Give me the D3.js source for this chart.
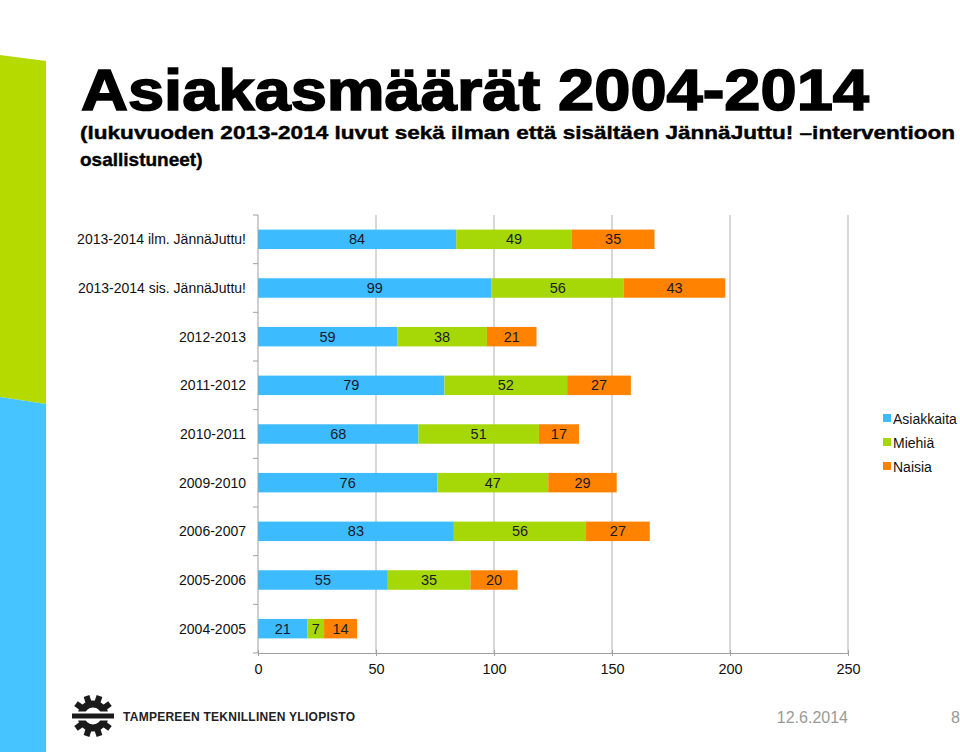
<!DOCTYPE html>
<html>
<head>
<meta charset="utf-8">
<script src="https://cdn.jsdelivr.net/npm/d3@7"></script>
<style>
  body { margin: 0; background: #fff; }
  svg { display: block; font-family: "Liberation Sans", Arial, sans-serif; }
</style>
</head>
<body>
<div id="container"></div>
<script>
  // data
  const categories = [
    "2013-2014 ilm. JännäJuttu!",
    "2013-2014 sis. JännäJuttu!",
    "2012-2013",
    "2011-2012",
    "2010-2011",
    "2009-2010",
    "2006-2007",
    "2005-2006",
    "2004-2005"
  ];
  const seriesNames = ["Asiakkaita", "Miehiä", "Naisia"];
  const asiakkaita = [84, 99, 59, 79, 68, 76, 83, 55, 21];
  const miehia = [49, 56, 38, 52, 51, 47, 56, 35, 7];
  const naisia = [35, 43, 21, 27, 17, 29, 27, 20, 14];
  const xTicks = [0, 50, 100, 150, 200, 250];
  const colors = ["#3dbbff", "#a5d806", "#ff8200"];

  const W = 960, H = 752;
  const svg = d3.select("#container").append("svg")
    .attr("width", W).attr("height", H);

  // left stripes
  svg.append("path").attr("d", "M0,55 L46,61 L46,404 L0,397 Z").attr("fill", "#b4da00");
  svg.append("path").attr("d", "M0,397 L46,404 L46,752 L0,752 Z").attr("fill", "#45c4ff");

  // title
  svg.append("text").attr("x", 81).attr("y", 110)
    .attr("font-size", 58).attr("font-weight", "bold")
    .attr("stroke", "#000").attr("stroke-width", 1.6)
    .attr("textLength", 788).attr("lengthAdjust", "spacingAndGlyphs")
    .text("Asiakasmäärät 2004-2014");
  svg.append("text").attr("x", 80).attr("y", 139)
    .attr("font-size", 19).attr("font-weight", "bold")
    .attr("stroke", "#000").attr("stroke-width", 0.4)
    .attr("textLength", 875).attr("lengthAdjust", "spacingAndGlyphs")
    .text("(lukuvuoden 2013-2014 luvut sekä ilman että sisältäen JännäJuttu! –interventioon");
  svg.append("text").attr("x", 80).attr("y", 166)
    .attr("font-size", 19).attr("font-weight", "bold")
    .attr("stroke", "#000").attr("stroke-width", 0.4)
    .text("osallistuneet)");

  // chart
  const x = d3.scaleLinear().domain([0, 250]).range([258, 848]);
  const y = d3.scaleBand().domain(categories).range([215, 653]).paddingInner(0.6).paddingOuter(0.3);

  const g = svg.append("g");

  // vertical gridlines
  g.selectAll(".grid").data(xTicks.slice(1)).join("line")
    .attr("x1", d => x(d)).attr("x2", d => x(d))
    .attr("y1", 215).attr("y2", 653)
    .attr("stroke", "#b0b0b0").attr("stroke-width", 1);

  const rows = categories.map((c, i) => ({ cat: c, Asiakkaita: asiakkaita[i], "Miehiä": miehia[i], Naisia: naisia[i] }));
  const stacked = d3.stack().keys(seriesNames)(rows);

  const layers = g.selectAll(".layer").data(stacked).join("g")
    .attr("fill", (d, i) => colors[i]);
  layers.selectAll("rect").data(d => d).join("rect")
    .attr("x", d => x(d[0]))
    .attr("width", d => x(d[1]) - x(d[0]))
    .attr("y", d => y(d.data.cat))
    .attr("height", y.bandwidth());

  layers.selectAll("text").data(d => d).join("text")
    .attr("x", d => (x(d[0]) + x(d[1])) / 2)
    .attr("y", d => y(d.data.cat) + y.bandwidth() / 2 + 5)
    .attr("text-anchor", "middle")
    .attr("font-size", 14.5)
    .attr("fill", "#1a1a2a")
    .text(d => d[1] - d[0]);

  // y axis
  const yAxis = g.append("g");
  yAxis.append("line").attr("x1", 258).attr("x2", 258).attr("y1", 215).attr("y2", 653)
    .attr("stroke", "#a0a0a0");
  const step = (653 - 215) / categories.length;
  yAxis.selectAll(".yt").data(d3.range(categories.length + 1)).join("line")
    .attr("x1", 253).attr("x2", 258)
    .attr("y1", i => 215 + i * step).attr("y2", i => 215 + i * step)
    .attr("stroke", "#a0a0a0");
  yAxis.selectAll(".yl").data(categories).join("text")
    .attr("x", 246)
    .attr("y", d => y(d) + y.bandwidth() / 2 + 5)
    .attr("text-anchor", "end")
    .attr("font-size", 14)
    .attr("fill", "#111")
    .text(d => d);

  // x axis
  const xAxis = g.append("g").attr("transform", "translate(0,653)")
    .call(d3.axisBottom(x).tickValues(xTicks).tickSize(5).tickSizeOuter(0));
  xAxis.select(".domain").attr("stroke", "#a0a0a0");
  xAxis.selectAll(".tick line").attr("stroke", "#a0a0a0").attr("y1", -3).attr("y2", 3);
  xAxis.selectAll(".tick text")
    .attr("font-size", 14.5).attr("font-family", "'Liberation Sans', Arial, sans-serif")
    .attr("fill", "#111").attr("dy", 0).attr("y", 21);

  // legend
  const legend = svg.append("g").attr("transform", "translate(883,414)");
  seriesNames.forEach((s, i) => {
    legend.append("rect").attr("x", 0).attr("y", i * 24).attr("width", 8).attr("height", 8)
      .attr("fill", colors[i]);
    legend.append("text").attr("x", 10).attr("y", i * 24 + 10)
      .attr("font-size", 14).attr("fill", "#111").text(s);
  });

  // logo
  const logo = svg.append("g").attr("transform", "translate(93,716)");
  d3.range(10).forEach(k => {
    const a = 18 + k * 36;
    logo.append("rect").attr("x", -3).attr("y", -21).attr("width", 6).attr("height", 10)
      .attr("fill", "#1a1a1a").attr("transform", `rotate(${a})`);
  });
  logo.append("circle").attr("r", 12).attr("fill", "none")
    .attr("stroke", "#1a1a1a").attr("stroke-width", 7);
  logo.append("rect").attr("x", -22).attr("y", -4.5).attr("width", 44).attr("height", 9).attr("fill", "#fff");
  logo.append("rect").attr("x", -21).attr("y", -2.5).attr("width", 42).attr("height", 5).attr("fill", "#1a1a1a");

  svg.append("text").attr("x", 123).attr("y", 721)
    .attr("font-size", 12).attr("font-weight", "bold").attr("fill", "#222")
    .attr("textLength", 232).attr("lengthAdjust", "spacing")
    .text("TAMPEREEN TEKNILLINEN YLIOPISTO");

  // footer
  svg.append("text").attr("x", 848).attr("y", 723).attr("text-anchor", "end")
    .attr("font-size", 16).attr("fill", "#999").text("12.6.2014");
  svg.append("text").attr("x", 960).attr("y", 723).attr("text-anchor", "end")
    .attr("font-size", 16).attr("fill", "#999").text("8");
</script>
</body>
</html>
